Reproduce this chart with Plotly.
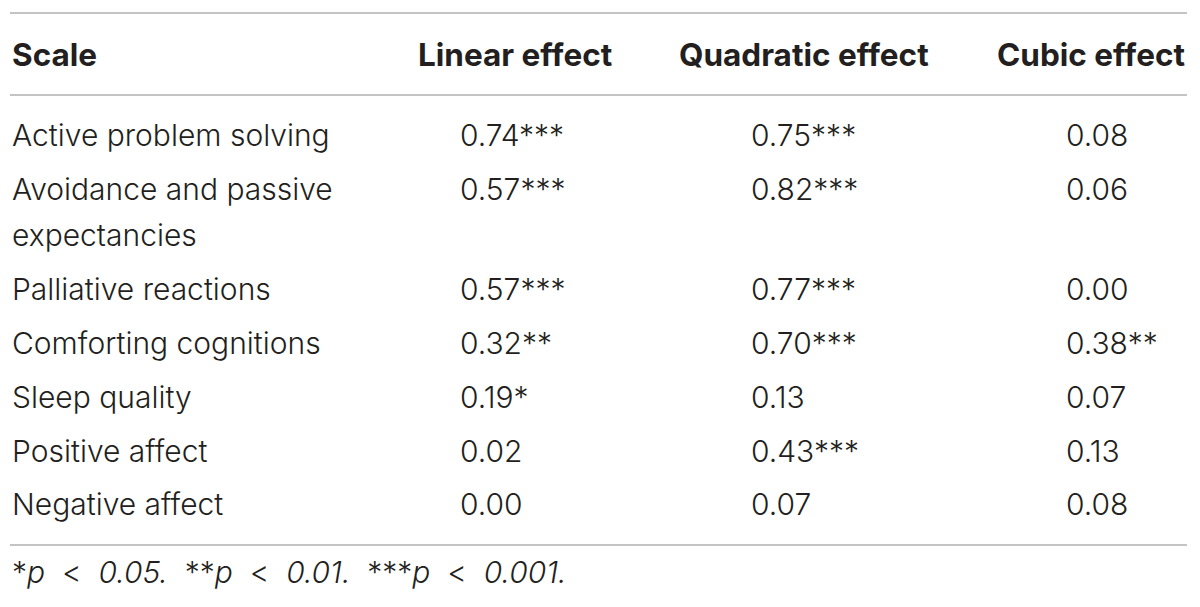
import plotly.graph_objects as go

# Table data
headers = ["Scale", "Linear effect", "Quadratic effect", "Cubic effect"]
scales = ["Active problem solving", "Avoidance and passive\nexpectancies", "Palliative reactions",
          "Comforting cognitions", "Sleep quality", "Positive affect", "Negative affect"]
linear = [0.74, 0.57, 0.57, 0.32, 0.19, 0.02, 0.00]
linear_sig = ["***", "***", "***", "**", "*", "", ""]
quadratic = [0.75, 0.82, 0.77, 0.70, 0.13, 0.43, 0.07]
quadratic_sig = ["***", "***", "***", "***", "", "***", ""]
cubic = [0.08, 0.06, 0.00, 0.38, 0.07, 0.13, 0.08]
cubic_sig = ["", "", "", "**", "", "", ""]
p_stars = ["*", "**", "***"]
p_levels = ["0.05", "0.01", "0.001"]

# layout (page-pixel axis units; page body has an 8px margin)
W, H = 1200, 607
off = 8
header_x = [10, 515, 804, 1091]
value_x = [458, 749, 1064]
header_y = 54
row_y = [135, 189, 289, 343, 397, 451, 504]
wrap_gap = 46
rule_y = [13, 95, 545]
foot_y = 572
ink = "#231f20"
body_font = dict(family="Inter", size=30, color=ink, weight=300)
head_font = dict(family="Inter", size=31.5, color=ink, weight="bold")

sp = "&nbsp;"
footnote = (sp * 2).join(f"{s}<i>p</i>{sp * 2}&lt;{sp * 2}<i>{lv}.</i>"
                         for s, lv in zip(p_stars, p_levels))

fig = go.Figure()
fig.add_trace(go.Scatter(x=[off, W + off], y=[off, H + off], mode="markers", marker=dict(opacity=0),
                         hoverinfo="skip", showlegend=False))

ann = []
for i, h in enumerate(headers):
    ann.append(dict(x=header_x[i], y=header_y, text="<b>" + h + "</b>",
                    xanchor="left" if i == 0 else "center", font=head_font))

for r, name in enumerate(scales):
    for k, line in enumerate(name.split("\n")):
        ann.append(dict(x=header_x[0], y=row_y[r] + k * wrap_gap, text=line,
                        xanchor="left", font=body_font))
    cols = [(linear, linear_sig), (quadratic, quadratic_sig), (cubic, cubic_sig)]
    for c, (vals, sig) in enumerate(cols):
        ann.append(dict(x=value_x[c], y=row_y[r], text=f"{vals[r]:.2f}{sig[r]}",
                        xanchor="left", font=body_font))

ann.append(dict(x=header_x[0], y=foot_y, text=footnote, xanchor="left", font=body_font))

for a in ann:
    a.update(xref="x", yref="y", yanchor="middle", showarrow=False)

shapes = [dict(type="line", xref="x", yref="y", x0=10, x1=1187, y0=y, y1=y,
               line=dict(color="#c4c4c4", width=2)) for y in rule_y]

fig.update_layout(
    width=W, height=H,
    margin=dict(l=0, r=0, t=0, b=0),
    paper_bgcolor="white", plot_bgcolor="white",
    xaxis=dict(range=[off, W + off], visible=False),
    yaxis=dict(range=[H + off, off], visible=False),
    annotations=ann, shapes=shapes,
)

fig.write_html("out.html")
